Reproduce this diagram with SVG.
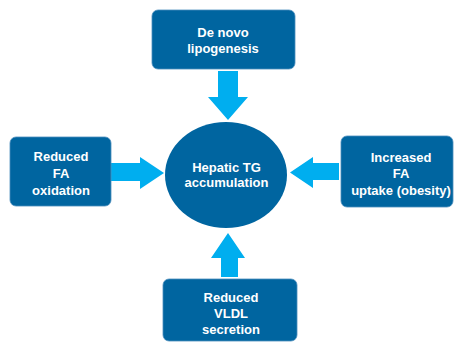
<svg xmlns="http://www.w3.org/2000/svg" width="455" height="343" viewBox="0 0 455 343">
<style>
.box{fill:#0065a0;stroke:#4a8dbd;stroke-width:0.8}
.t{fill:#ffffff;font-family:"Liberation Sans",Arial,sans-serif;font-weight:bold;font-size:13px;text-anchor:middle}
.arr{fill:#00aeef}
</style>
<rect width="455" height="343" fill="#ffffff"/>
<g id="connectors">
<polygon class="arr" points="218,71 238,71 238,97 248,97 228,120 208,97 218,97"/>
<polygon class="arr" points="221,277 238,277 238,258 245,258 228,233 211,258 221,258"/>
<polygon class="arr" points="111,163 140,163 140,157 164,173 140,189 140,181 111,181"/>
<polygon class="arr" points="339,163 313,163 313,157 290,172.5 313,188 313,180 339,180"/>
</g>
<g id="center">
<ellipse cx="226" cy="175" rx="61" ry="53" fill="#0065a0"/>
<text class="t" x="226.5" y="172">Hepatic TG</text>
<text class="t" x="226.5" y="187">accumulation</text>
</g>
<g id="top">
<rect class="box" x="152" y="10" width="143" height="59" rx="6"/>
<text class="t" x="223" y="37">De novo</text>
<text class="t" x="223" y="53">lipogenesis</text>
</g>
<g id="left">
<rect class="box" x="10" y="137" width="101" height="69" rx="6"/>
<text class="t" x="61" y="161">Reduced</text>
<text class="t" x="61" y="178">FA</text>
<text class="t" x="61" y="195">oxidation</text>
</g>
<g id="right">
<rect class="box" x="341" y="136" width="112" height="71" rx="6"/>
<text class="t" x="401" y="162">Increased</text>
<text class="t" x="401" y="178">FA</text>
<text class="t" x="401" y="195">uptake (obesity)</text>
</g>
<g id="bottom">
<rect class="box" x="163" y="279" width="134" height="62" rx="6"/>
<text class="t" x="231" y="302">Reduced</text>
<text class="t" x="231" y="318">VLDL</text>
<text class="t" x="231" y="334">secretion</text>
</g>
</svg>
